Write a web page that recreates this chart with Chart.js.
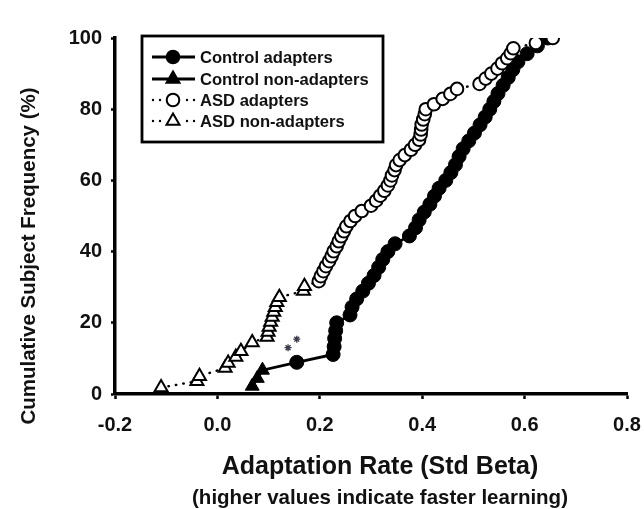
<!DOCTYPE html>
<html><head><meta charset="utf-8">
<script src="https://cdn.jsdelivr.net/npm/chart.js@4.4.1/dist/chart.umd.min.js"></script>
<style>html,body{margin:0;padding:0;background:#fff;}#wrap{width:644px;height:509px;}</style>
</head><body><div id="wrap"><canvas id="c" width="644" height="509"></canvas></div>
<script>
const xTickValues = [-0.2, 0.0, 0.2, 0.4, 0.6, 0.8];
const yTickValues = [0, 20, 40, 60, 80, 100];

const controlNonAdaptersX = [0.068, 0.078, 0.088];
const controlNonAdaptersY = [2.2, 4.4, 6.7];
const controlAdaptersX = [0.155, 0.226, 0.228, 0.229, 0.231, 0.233, 0.259, 0.263, 0.272, 0.284, 0.295, 0.306, 0.315, 0.323, 0.333, 0.347, 0.375, 0.387, 0.394, 0.404, 0.415, 0.424, 0.433, 0.446, 0.456, 0.465, 0.472, 0.480, 0.491, 0.502, 0.513, 0.523, 0.532, 0.540, 0.548, 0.558, 0.568, 0.577, 0.587, 0.605, 0.625, 0.645];
const controlAdaptersY = [8.9, 11.1, 13.3, 15.6, 17.8, 20.0, 22.2, 24.4, 26.7, 28.9, 31.1, 33.3, 35.6, 37.8, 40.0, 42.2, 44.4, 46.7, 48.9, 51.1, 53.3, 55.6, 57.8, 60.0, 62.2, 64.4, 66.7, 68.9, 71.1, 73.3, 75.6, 77.8, 80.0, 82.2, 84.4, 86.7, 88.9, 91.1, 93.3, 95.6, 97.8, 100];

const asdNonAdaptersX = [-0.110, -0.040, -0.035, 0.015, 0.021, 0.036, 0.046, 0.068, 0.097, 0.099, 0.101, 0.104, 0.107, 0.110, 0.113, 0.116, 0.121, 0.168, 0.170];
const asdNonAdaptersY = [1.8, 3.6, 5.0, 7.3, 8.7, 10.4, 12.0, 14.5, 16.0, 17.4, 18.8, 20.2, 21.6, 23.0, 24.4, 25.8, 27.2, 28.9, 30.3];
const asdAdaptersX = [0.198, 0.202, 0.207, 0.212, 0.218, 0.223, 0.227, 0.233, 0.237, 0.242, 0.247, 0.252, 0.260, 0.269, 0.282, 0.300, 0.310, 0.318, 0.326, 0.333, 0.338, 0.341, 0.346, 0.349, 0.356, 0.366, 0.378, 0.386, 0.394, 0.397, 0.398, 0.399, 0.402, 0.405, 0.407, 0.423, 0.440, 0.455, 0.468, 0.512, 0.524, 0.535, 0.547, 0.556, 0.566, 0.573, 0.578, 0.622, 0.655];
const asdAdaptersY = [31.7, 33.1, 34.5, 35.9, 37.3, 38.7, 40.1, 41.5, 42.9, 44.3, 45.7, 47.1, 48.6, 50.0, 51.4, 52.9, 54.3, 55.7, 57.1, 58.6, 60.0, 61.4, 62.9, 64.3, 65.7, 67.1, 68.6, 70.0, 71.4, 72.9, 74.3, 75.7, 77.1, 78.6, 80.0, 81.4, 82.9, 84.3, 85.7, 87.1, 88.6, 90.0, 91.4, 92.9, 94.3, 95.7, 97.1, 98.6, 100];

const starsX = [0.138, 0.155];
const starsY = [13.0, 15.4];

const seriesLabels = ['Control adapters', 'Control non-adapters', 'ASD adapters', 'ASD non-adapters'];
const xTitle = 'Adaptation Rate (Std Beta)';
const xSubtitle = '(higher values indicate faster learning)';
const yTitle = 'Cumulative Subject Frequency (%)';

const pts = (xs, ys) => xs.map((x, i) => ({x: x, y: ys[i]}));
const FONT = '"Liberation Sans", Arial, Helvetica, sans-serif';
const INK = '#111';

const controlLine = pts(controlNonAdaptersX.concat(controlAdaptersX), controlNonAdaptersY.concat(controlAdaptersY));
const asdLine = pts(asdNonAdaptersX.concat(asdAdaptersX), asdNonAdaptersY.concat(asdAdaptersY));

const extraText = {
  id: 'extraText',
  afterDraw(chart) {
    const ctx = chart.ctx, a = chart.chartArea;
    const cx = a.left + (a.right - a.left) / 2 + 9;
    ctx.save();
    ctx.fillStyle = INK;
    ctx.textAlign = 'center';
    ctx.textBaseline = 'middle';
    ctx.font = 'bold 25px ' + FONT;
    ctx.fillText(xTitle, cx, 467);
    ctx.font = 'bold 20.5px ' + FONT;
    ctx.fillText(xSubtitle, cx, 498);
    ctx.translate(29, 256);
    ctx.rotate(-Math.PI / 2);
    ctx.font = 'bold 20.5px ' + FONT;
    ctx.fillText(yTitle, 0, 0);
    ctx.restore();

    // legend
    ctx.save();
    const bx = a.left + 27, by = a.top - 2, bw = 241, bh = 106;
    ctx.fillStyle = '#fff';
    ctx.fillRect(bx, by, bw, bh);
    ctx.strokeStyle = '#000';
    ctx.lineWidth = 2.8;
    ctx.strokeRect(bx, by, bw, bh);
    const rows = [21, 43, 64, 85];
    const x0 = bx + 10, x1 = bx + 53, xm = bx + 31;
    ctx.font = 'bold 16.6px ' + FONT;
    ctx.textAlign = 'left';
    ctx.textBaseline = 'middle';
    rows.forEach((dy, i) => {
      const y = by + dy;
      const dotted = i >= 2;
      ctx.strokeStyle = '#000';
      ctx.lineWidth = 2.8;
      if (dotted) {
        ctx.fillStyle = '#000';
        [x0 + 1, x0 + 8, x1 - 8, x1 - 1].forEach(dx => { ctx.beginPath(); ctx.arc(dx, y, 1.2, 0, Math.PI * 2); ctx.fill(); });
      } else {
        ctx.beginPath(); ctx.moveTo(x0, y); ctx.lineTo(x1, y); ctx.stroke();
      }
      const filled = i < 2;
      ctx.fillStyle = filled ? '#000' : '#fff';
      ctx.lineWidth = 2;
      ctx.beginPath();
      if (i % 2 === 0) {
        ctx.arc(xm, y, 6.3, 0, Math.PI * 2);
      } else {
        const r = 7.5;
        ctx.moveTo(xm, y - r);
        ctx.lineTo(xm + r * 0.866, y + r * 0.5);
        ctx.lineTo(xm - r * 0.866, y + r * 0.5);
        ctx.closePath();
      }
      ctx.fill(); ctx.stroke();
      ctx.fillStyle = INK;
      ctx.fillText(seriesLabels[i], bx + 58, y + 1);
    });
    ctx.restore();
  }
};

new Chart(document.getElementById('c'), {
  type: 'scatter',
  data: {
    datasets: [
      {label: seriesLabels[0], data: pts(controlAdaptersX, controlAdaptersY), pointStyle: 'circle', pointRadius: 7, backgroundColor: '#000', borderColor: '#000', borderWidth: 1, order: 3},
      {label: seriesLabels[1], data: pts(controlNonAdaptersX, controlNonAdaptersY), pointStyle: 'triangle', pointRadius: 8, backgroundColor: '#000', borderColor: '#000', borderWidth: 1, order: 3},
      {label: seriesLabels[2], data: pts(asdAdaptersX, asdAdaptersY), pointStyle: 'circle', pointRadius: 6.3, backgroundColor: '#fff', borderColor: '#000', borderWidth: 2, order: 1},
      {label: seriesLabels[3], data: pts(asdNonAdaptersX, asdNonAdaptersY), pointStyle: 'triangle', pointRadius: 7.5, backgroundColor: '#fff', borderColor: '#000', borderWidth: 2, order: 1},
      {label: 'control line', data: controlLine, showLine: true, pointRadius: 0, borderColor: '#000', borderWidth: 2.8, order: 4},
      {label: 'asd line', data: asdLine, showLine: true, pointRadius: 0, borderColor: '#000', borderWidth: 2.4, borderDash: [0.5, 7], borderCapStyle: 'round', order: 2},
      {label: 'stars', data: pts(starsX, starsY), pointStyle: 'star', pointRadius: 3.5, borderColor: '#3a3a4a', borderWidth: 1.3, backgroundColor: '#3a3a4a', order: 0}
    ]
  },
  options: {
    responsive: false,
    animation: false,
    devicePixelRatio: 1,
    layout: {padding: {left: 0, right: 0, top: 38, bottom: 0}},
    plugins: {legend: {display: false}, tooltip: {enabled: false}},
    scales: {
      x: {
        type: 'linear', min: -0.2, max: 0.8,
        afterBuildTicks: s => { s.ticks = xTickValues.map(v => ({value: v})); },
        afterFit: s => { s.height = 115; s.paddingRight = 17; s.paddingLeft = 0; },
        ticks: {callback: v => Number(v).toFixed(1), font: {family: FONT, size: 20, weight: 'bold'}, color: INK, padding: 14, maxRotation: 0, autoSkip: false},
        grid: {drawOnChartArea: false, drawTicks: true, tickLength: 5, tickWidth: 2.5, tickColor: '#000'},
        border: {display: true, color: '#000', width: 3.5}
      },
      y: {
        min: 0, max: 100,
        afterBuildTicks: s => { s.ticks = yTickValues.map(v => ({value: v})); },
        afterFit: s => { s.width = 115; },
        ticks: {font: {family: FONT, size: 20, weight: 'bold'}, color: INK, padding: 9, autoSkip: false},
        grid: {drawOnChartArea: false, drawTicks: true, tickLength: 4, tickWidth: 2.5, tickColor: '#000'},
        border: {display: true, color: '#000', width: 3.5}
      }
    }
  },
  plugins: [extraText]
});
</script>
</body></html>
